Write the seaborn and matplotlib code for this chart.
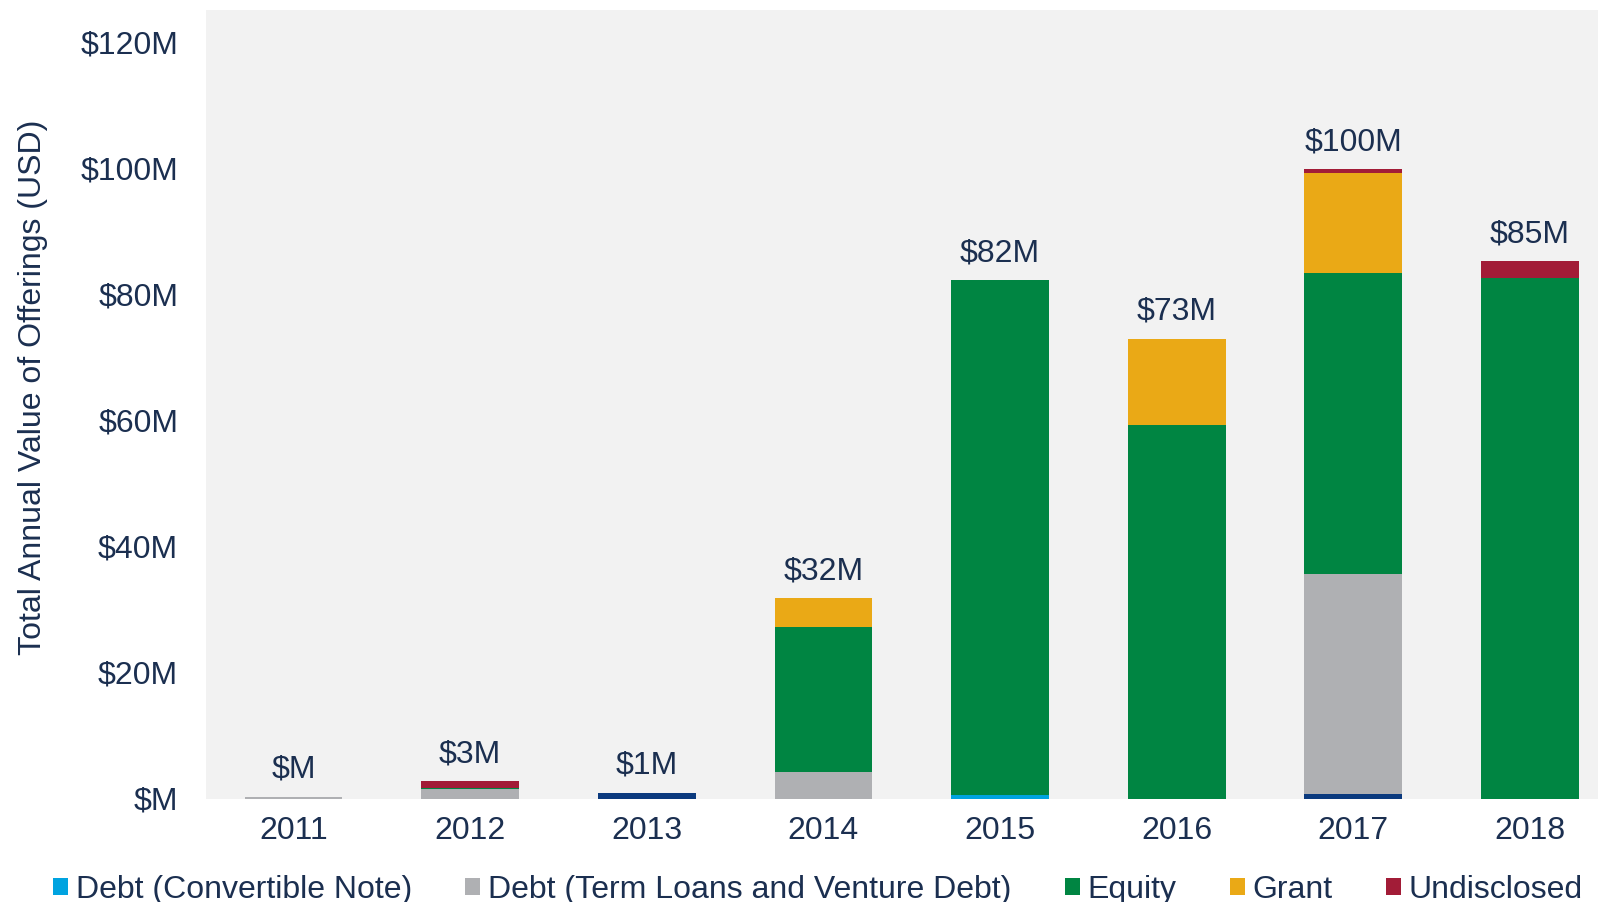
import matplotlib
matplotlib.use("Agg")
import matplotlib.pyplot as plt
from matplotlib.patches import Patch
from matplotlib.ticker import FuncFormatter
import numpy as np
import pandas as pd
import seaborn as sns

# Annual offering values in $M, by instrument (stack order bottom -> top)
years = ["2011", "2012", "2013", "2014", "2015", "2016", "2017", "2018"]
debt_other = [0.0, 0.0, 0.92, 0.0, 0.0, 0.0, 0.7, 0.0]
debt_convertible = [0.0, 0.0, 0.0, 0.0, 0.55, 0.0, 0.0, 0.0]
debt_term = [0.3, 1.45, 0.0, 4.2, 0.0, 0.0, 34.9, 0.0]
equity = [0.0, 0.25, 0.0, 23.0, 81.65, 59.2, 47.7, 82.5]
grant = [0.0, 0.0, 0.0, 4.6, 0.0, 13.7, 15.8, 0.0]
undisclosed = [0.0, 1.05, 0.0, 0.0, 0.0, 0.0, 0.7, 2.7]

series_names = ["Debt (Other)", "Debt (Convertible Note)",
                "Debt (Term Loans and Venture Debt)", "Equity", "Grant",
                "Undisclosed"]
series_values = [debt_other, debt_convertible, debt_term, equity, grant,
                 undisclosed]
series_colors = ["#0b3a7e", "#00a3e0", "#afb0b3", "#008542", "#eaa916",
                 "#a21c37"]
legend_names = series_names[1:]

TEXT = "#1b2f50"
FS = 23

sns.set_theme(style="white")
plt.rcParams["font.family"] = ["Liberation Sans", "DejaVu Sans"]
plt.rcParams["text.color"] = TEXT


def money(v, pos=None):
    n = int(round(v))
    return f"${n if n else ''}M"


df = pd.DataFrame({"year": years})
for name, vals in zip(series_names, series_values):
    df[name] = vals
cum = df[series_names].cumsum(axis=1)
totals = cum[series_names[-1]].values

fig = plt.figure(figsize=(15.98, 9.02), dpi=100)
ax = fig.add_axes([206 / 1598, 103.5 / 902, 1392 / 1598, 788.5 / 902])
ax.set_facecolor("#f2f2f2")

# Stacked bars: draw cumulative heights from the top layer down
for name, color in reversed(list(zip(series_names, series_colors))):
    sns.barplot(x=df["year"], y=cum[name], order=years, color=color,
                saturation=1, width=0.553, linewidth=0, ax=ax)

for i, t in enumerate(totals):
    ax.annotate(money(t), xy=(i, t), xytext=(0, 8.5), textcoords="offset points",
                ha="center", va="bottom", fontsize=FS, color=TEXT)

ax.set_ylim(0, 125)
ax.set_xlim(-0.495, 7.385)
ax.set_yticks(np.arange(0, 121, 20))
ax.yaxis.set_major_formatter(FuncFormatter(money))
ax.tick_params(axis="both", length=0, labelsize=FS, labelcolor=TEXT)
ax.tick_params(axis="y", pad=20)
ax.tick_params(axis="x", pad=12.5)
for s in ax.spines.values():
    s.set_visible(False)
ax.set_xlabel("")
ax.set_ylabel("Total Annual Value of Offerings (USD)", fontsize=FS,
              color=TEXT, va="center")
ax.yaxis.set_label_coords(-0.1245, 0.522)

handles = [Patch(facecolor=c, edgecolor="none")
           for c in series_colors[1:]]
fig.legend(handles, legend_names, loc="center", ncol=5,
           bbox_to_anchor=(818 / 1598, 1 - 890 / 902), frameon=False,
           fontsize=FS, handlelength=0.47, handleheight=0.47,
           handletextpad=0.25, columnspacing=1.66, borderpad=0,
           borderaxespad=0, labelcolor=TEXT)

fig.savefig("out.png", dpi=100, facecolor="white")
